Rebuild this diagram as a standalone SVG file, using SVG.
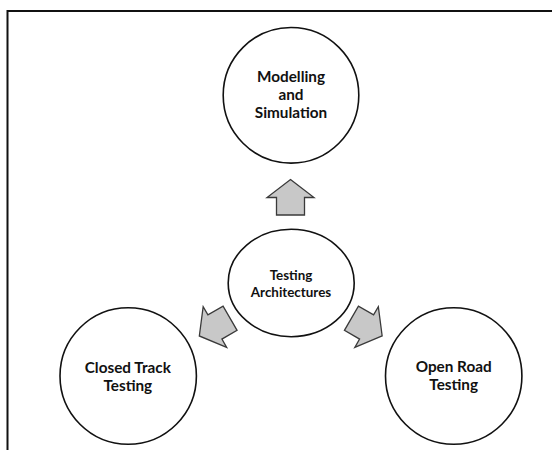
<svg xmlns="http://www.w3.org/2000/svg" width="552" height="450" viewBox="0 0 552 450">
  <style>
    .node { fill: #ffffff; stroke: #111111; stroke-width: 1.6; }
    .lbl { font-family: Lato, "Open Sans", "Liberation Sans", sans-serif; font-weight: bold; font-size: 15.3px; fill: #111111; text-anchor: middle; }
    .lbl.small { font-size: 13.4px; }
    .arrow { fill: #c8c8c8; stroke: #3a3a3a; stroke-width: 1.3; stroke-linejoin: miter; }
    .frame { stroke: #111111; stroke-width: 2; fill: none; }
  </style>
  <defs>
    <!-- block arrow pointing up, centred on its own origin -->
    <path id="blockArrow" d="M0,-17.75 L23.5,0.25 L14,0.25 L14,17.75 L-14,17.75 L-14,0.25 L-23.5,0.25 Z"/>
  </defs>

  <rect width="552" height="450" fill="#ffffff"/>
  <!-- open frame: top and left edges -->
  <path class="frame" d="M7.5,450 L7.5,11 L552,11"/>

  <g id="connectors">
    <use href="#blockArrow" class="arrow" transform="translate(290.5,197.25)"/>
    <use href="#blockArrow" class="arrow" transform="translate(214.7,327.1) rotate(-120)"/>
    <use href="#blockArrow" class="arrow" transform="translate(366.8,327.1) rotate(120)"/>
  </g>

  <g id="modelling-simulation">
    <circle class="node" cx="291" cy="95.3" r="67.8"/>
    <text class="lbl" x="291" y="81.7">Modelling</text>
    <text class="lbl" x="291" y="100">and</text>
    <text class="lbl" x="291" y="118.2">Simulation</text>
  </g>

  <g id="testing-architectures">
    <ellipse class="node" cx="291.2" cy="283" rx="63" ry="53.7"/>
    <text class="lbl small" x="291" y="280">Testing</text>
    <text class="lbl small" x="291" y="296.5">Architectures</text>
  </g>

  <g id="closed-track-testing">
    <circle class="node" cx="128.2" cy="376" r="68.2"/>
    <text class="lbl" x="127.8" y="372.7">Closed Track</text>
    <text class="lbl" x="127.8" y="390.7">Testing</text>
  </g>

  <g id="open-road-testing">
    <circle class="node" cx="453.7" cy="376" r="68.2"/>
    <text class="lbl" x="453.7" y="372.4">Open Road</text>
    <text class="lbl" x="453.7" y="390.3">Testing</text>
  </g>
</svg>
